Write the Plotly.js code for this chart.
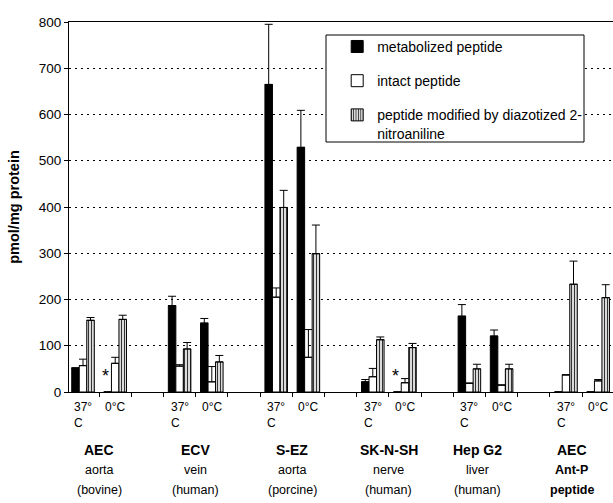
<!DOCTYPE html>
<html>
<head>
<meta charset="utf-8">
<script src="https://cdn.plot.ly/plotly-3.0.1.min.js"></script>
<style>
  html, body { margin: 0; padding: 0; background: #fff; overflow: hidden; }
  #chart { width: 613px; height: 503px; }
</style>
</head>
<body>
<div id="chart"></div>
<script>
// Cell lines / tissues, each measured at two temperatures
const groupNames = ['AEC', 'ECV', 'S-EZ', 'SK-N-SH', 'Hep G2', 'AEC'];
const groupLine2 = ['aorta', 'vein', 'aorta', 'nerve', 'liver', '<b>Ant-P</b>'];
const groupLine3 = ['(bovine)', '(human)', '(porcine)', '(human)', '(human)', '<b>peptide</b>'];
const tempLabels = ['37°<br>C', '0°C'];

// pmol/mg protein, ordered AEC 37°, AEC 0°, ECV 37°, ECV 0°, ...
const metabolized    = [52, 0, 187, 149, 665, 529, 22, 0, 164, 121, 0, 0];
const metabolizedErr = [null, null, 20, 10, 130, 80, 5, null, 25, 13, null, null];
const intact         = [57, 62, 56, 22, 205, 75, 33, 20, 19, 15, 37, 24];
const intactErr      = [14, 13, 3, 33, 20, 60, 18, 9, null, null, null, 3];
const modified       = [155, 157, 93, 65, 399, 299, 113, 96, 50, 50, 233, 204];
const modifiedErr    = [6, 9, 14, 14, 37, 62, 6, 9, 10, 10, 50, 28];
// metabolized peptide not detected
const notDetected    = [false, true, false, false, false, false, false, true, false, false, false, false];

const yTicks = [0, 100, 200, 300, 400, 500, 600, 700, 800];

// Each group takes three slots on the axis: 37°, 0°, then an empty slot
const xPos = metabolized.map((_, i) => Math.floor(i / 2) * 3 + (i % 2));

function errBar(arr) {
  return {
    type: 'data', array: arr, arrayminus: arr.map(() => 0), symmetric: false,
    visible: true, color: '#000', thickness: 1, width: 4
  };
}

const traces = [
  {
    type: 'bar', name: 'metabolized peptide', x: xPos, y: metabolized,
    marker: { color: '#000', line: { color: '#000', width: 1 } },
    error_y: errBar(metabolizedErr), legendgroup: 'a'
  },
  {
    type: 'bar', name: 'intact peptide', x: xPos, y: intact,
    marker: { color: '#fff', line: { color: '#000', width: 1 } },
    error_y: errBar(intactErr), legendgroup: 'b'
  },
  {
    type: 'bar', name: 'peptide modified by diazotized 2-<br>nitroaniline', x: xPos, y: modified,
    marker: {
      color: '#fff', line: { color: '#000', width: 1 },
      pattern: { shape: '|', size: 3, solidity: 0.45, fgcolor: '#333', bgcolor: '#fff' }
    },
    error_y: errBar(modifiedErr), legendgroup: 'c'
  }
];

const annotations = [];
const baseFont = { family: 'Liberation Sans, Arial, sans-serif', color: '#000' };

// temperature labels under each pair of bars
xPos.forEach((x, i) => {
  annotations.push({
    x: x, xref: 'x', y: 0, yref: 'paper', yanchor: 'top', xanchor: 'center',
    yshift: -6, text: tempLabels[i % 2], showarrow: false, align: 'left',
    font: Object.assign({ size: 12 }, baseFont)
  });
});

// group captions
const captionShift = [0, 0, 0, 0, -0.25, -0.32];
groupNames.forEach((name, g) => {
  const cx = g * 3 + 0.5 + captionShift[g];
  [[name, 14, -58, true], [groupLine2[g], 12.5, -78, false], [groupLine3[g], 12.5, -98, false]]
    .forEach(([txt, size, dy, bold]) => {
      annotations.push({
        x: cx, xref: 'x', y: 0, yref: 'paper', yanchor: 'middle', xanchor: 'center',
        yshift: dy, text: bold ? '<b>' + txt + '</b>' : txt, showarrow: false,
        font: Object.assign({ size: size }, baseFont)
      });
    });
});

// asterisks marking undetected metabolite
notDetected.forEach((flag, i) => {
  if (!flag) return;
  annotations.push({
    x: xPos[i] - 0.3, xref: 'x', y: 0, yref: 'y', yanchor: 'middle', xanchor: 'center',
    yshift: 16, text: '*', showarrow: false,
    font: Object.assign({ size: 18 }, baseFont)
  });
});

const layout = {
  width: 613, height: 503,
  margin: { l: 69, r: 0, t: 22, b: 111 },
  paper_bgcolor: '#fff', plot_bgcolor: '#fff',
  font: Object.assign({ size: 13 }, baseFont),
  barmode: 'group', bargap: 0.3, bargroupgap: 0,
  showlegend: true,
  legend: {
    x: 0.493, xanchor: 'left', y: 0.976, yanchor: 'top',
    bgcolor: 'rgba(0,0,0,0)', borderwidth: 0,
    font: Object.assign({ size: 14 }, baseFont),
    tracegroupgap: 13, valign: 'top', itemwidth: 30
  },
  xaxis: {
    range: [-0.435, 16.46], showgrid: false, zeroline: false,
    showline: true, linecolor: '#000', linewidth: 1, mirror: true,
    tickvals: [], showticklabels: false, ticks: '',
    minor: {
      tickvals: [0.5, 1.5, 2.5, 3.5, 4.5, 5.5, 6.5, 7.5, 8.5, 9.5, 10.5, 11.5, 12.5, 13.5, 14.5, 15.5],
      ticks: 'outside', ticklen: 4, tickcolor: '#000', showgrid: false
    }
  },
  yaxis: {
    range: [0, 800], tickvals: yTicks, ticks: 'outside', ticklen: 4, tickcolor: '#000',
    showline: true, linecolor: '#000', linewidth: 1, zeroline: false,
    showgrid: true, gridcolor: '#000', gridwidth: 1, griddash: '2px,4px',
    tickfont: Object.assign({ size: 13.5 }, baseFont),
    title: { text: '<b>pmol/mg protein</b>', font: Object.assign({ size: 14.5 }, baseFont), standoff: 15 },
    automargin: false
  },
  shapes: [
    {
      type: 'rect', xref: 'paper', yref: 'paper', layer: 'above',
      x0: (326 - 69) / 544, x1: (584 - 69) / 544, y0: (392 - 142) / 370, y1: (392 - 35) / 370,
      fillcolor: '#fff', line: { color: '#000', width: 1 }
    }
  ],
  annotations: annotations
};

Plotly.newPlot('chart', traces, layout, { staticPlot: true, displayModeBar: false });
</script>
</body>
</html>
